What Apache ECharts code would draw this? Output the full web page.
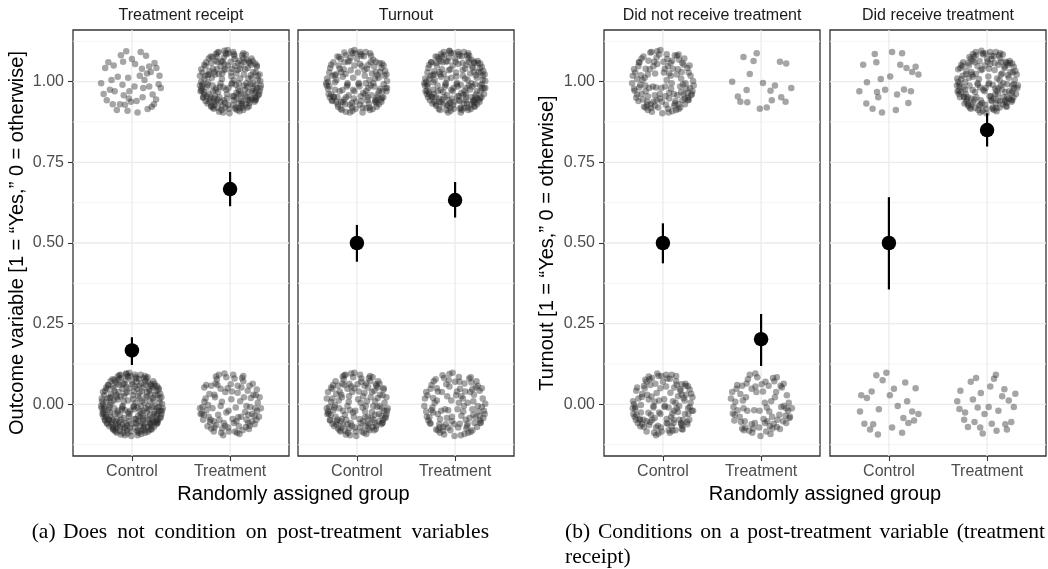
<!DOCTYPE html>
<html><head><meta charset="utf-8">
<script src="https://cdn.jsdelivr.net/npm/echarts@6/dist/echarts.min.js"></script>
<style>html,body{margin:0;padding:0;background:#fff}#c{width:1048px;height:569px}</style>
</head><body><div id="c"></div><script>
// ---------------- data ----------------
const panelTitles = ['Treatment receipt', 'Turnout', 'Did not receive treatment', 'Did receive treatment'];
const groups = ['Control', 'Treatment'];
const yTicks = [0, 0.25, 0.5, 0.75, 1];
const yMinor = [-0.125, 0.125, 0.375, 0.625, 0.875, 1.125];
// group means (proportion "Yes") and 95% interval, [Control, Treatment] per panel
const means  = [[0.167, 0.667], [0.500, 0.633], [0.500, 0.202], [0.500, 0.850]];
const ciLow  = [[0.122, 0.614], [0.442, 0.579], [0.437, 0.119], [0.356, 0.799]];
const ciHigh = [[0.208, 0.720], [0.556, 0.689], [0.561, 0.280], [0.642, 0.902]];
// individuals with outcome 0 and outcome 1, [Control, Treatment] per panel
const countZero = [[250, 100], [150, 110], [125, 80], [25, 30]];
const countOne  = [[50, 200], [150, 190], [125, 20], [25, 170]];
// jitter offsets (hundredths of the jitter radius), read as a disc-shaped cloud
const jitter = [
 12,-45,-67,23,81,-30,-5,88,44,61,-88,-14,30,-82,-40,-55,69,12,-20,35,
 5,-8,58,-62,-73,-48,22,79,-52,70,90,33,-95,10,36,-20,-14,-90,77,-55,
 -30,-10,48,25,-61,-70,10,55,-85,42,63,-78,-8,-30,28,92,-45,15,85,-8,
 -22,-72,55,47,-70,-25,15,-60,-35,82,72,58,-90,-38,40,5,0,70,-58,50,
 92,-20,-12,12,34,-48,-80,-58,60,30,-26,-42,18,-96,-65,5,50,-85,-48,-88,
 78,42,-3,-62,25,18,-75,60,66,-40,-18,94,45,80,-98,-5,8,-15,-38,-70,
 70,-70,-55,-30,32,40,-28,62,88,18,-10,-52,55,-15,-82,-40,12,85,-62,78,
 38,-68,-42,38,96,2,-15,-80,20,-35,-70,20,52,68,-32,-15,80,-50,-50,-62,
 3,28,62,-58,-88,28,42,-88,-20,75,74,-22,-60,-78,16,48,-40,90,94,-30,
 -78,-60,28,-5,-8,98,58,10,-35,-93,85,50,-92,-22,10,-72,-55,40,46,-42,
 -25,25,68,72,-72,-10,30,65,-10,-38,82,-56,-48,-45,20,25,-68,72,55,-80,
 -96,18,36,-75,-18,55,90,-42,-44,-20,12,5,-85,-50,48,38,-30,-62,72,-5,
 -2,-98,50,84,-55,-80,26,-22,-78,48,80,-58,-22,-18,40,-60,-58,12,14,70,
 66,52,-38,-82,-92,38,6,40,78,-35,-50,-72,30,-92,-75,-18,58,-32,-12,84,
 98,-12,-30,48,20,-52,-64,-55,44,22,-5,-20,82,28,-46,65,35,-38,-82,8,
 16,-84,-68,-38,62,58,-20,-58,50,-70,-90,-28,24,58,-56,-12,86,-20,-36,92,
 8,-45,70,-52,-76,60,38,82,-25,-75,92,-38,-48,22,2,62,64,-8,-60,-75,
 -15,38,52,-48,-88,-8,28,-68,-42,78,72,64,-66,32,18,-10,-28,-88,88,5,
 -52,-52,42,72,-6,-72,60,-76,-84,-32,32,10,-18,96,80,-12,-60,58,12,-58,
 -38,-32,56,42,-94,-30,22,-88,-45,86,85,46,-72,-68,4,16,-26,8,48,-24,
 -82,52,62,-66,10,92,-34,-48,74,30,-52,-84,36,52,-12,-25,94,22,-70,-2,
 26,-40,-40,60,70,-30,-22,-96,42,88,-96,-12,58,-58,-8,50,-62,-48,84,-48,
 -30,-5,14,80,-78,18,40,-80,-50,30,66,20,-16,-66,24,36,-86,-48,52,-5,
 -44,-64,78,-62,-4,-84,60,62,-66,-62,34,-58,-24,64,96,-20,-56,76,6,-4,
 -74,-46,44,-12,-36,24,18,-80,80,56,-92,0,30,-28,-14,88,64,-48,-46,-26
];
const captionA = '(a)  Does not condition on post-treatment variables';
const captionB1 = '(b)  Conditions on a post-treatment variable (treatment';
const captionB2 = 'receipt)';

// ---------------- layout (display only) ----------------
const panelLeft = [73, 298, 604, 830];
const panelWidth = 216, panelTop = 30, panelHeight = 426;
const jitterStart = [[[0, 17], [133, 61]], [[88, 200], [29, 145]], [[171, 44], [110, 230]], [[75, 190], [5, 120]]];
const jitterRX = 0.32, jitterRY = 0.10;
const nJ = jitter.length / 2;
const sans = "'Liberation Sans', Arial, Helvetica, sans-serif";
const serif = "'Liberation Serif', 'Times New Roman', serif";

const grids = [], xAxes = [], yAxes = [], series = [];
for (let p = 0; p < 4; p++) {
  grids.push({left: panelLeft[p], top: panelTop, width: panelWidth, height: panelHeight,
    show: true, borderColor: '#333333', borderWidth: 1.3, backgroundColor: '#fff', containLabel: false});
  xAxes.push({type: 'value', gridIndex: p, min: 0.4, max: 2.6,
    axisLine: {show: false, onZero: false}, splitLine: {show: false},
    axisTick: {show: true, customValues: [1, 2], length: 5, lineStyle: {color: '#333333', width: 1.1}},
    axisLabel: {show: true, customValues: [1, 2], formatter: v => groups[Math.round(v) - 1],
      fontSize: 16, color: '#4D4D4D', fontFamily: sans, margin: 8}});
  const showY = (p === 0 || p === 2);
  yAxes.push({type: 'value', gridIndex: p, min: -0.16, max: 1.16,
    axisLine: {show: false, onZero: false}, splitLine: {show: false},
    axisTick: {show: showY, customValues: yTicks, length: 5, lineStyle: {color: '#333333', width: 1.1}},
    axisLabel: {show: showY, customValues: yTicks, formatter: v => v.toFixed(2),
      fontSize: 16, color: '#4D4D4D', fontFamily: sans, margin: 9}});

  // grid lines
  const hData = yMinor.map(v => [v, 0]).concat(yTicks.map(v => [v, 1]));
  series.push({type: 'custom', xAxisIndex: p, yAxisIndex: p, silent: true, z: 1, clip: false,
    data: hData,
    renderItem: (params, api) => {
      const cs = params.coordSys;
      const y = api.coord([1, api.value(0)])[1];
      const major = api.value(1) === 1;
      return {type: 'line', shape: {x1: cs.x, y1: y, x2: cs.x + cs.width, y2: y},
        style: {stroke: major ? '#EBEBEB' : '#F3F3F3', lineWidth: major ? 1.3 : 0.9}};
    }});
  series.push({type: 'custom', xAxisIndex: p, yAxisIndex: p, silent: true, z: 1, clip: false,
    data: [[1], [2]],
    renderItem: (params, api) => {
      const cs = params.coordSys;
      const x = api.coord([api.value(0), 0])[0];
      return {type: 'line', shape: {x1: x, y1: cs.y, x2: x, y2: cs.y + cs.height},
        style: {stroke: '#EBEBEB', lineWidth: 1.3}};
    }});

  // jittered individual outcomes
  const pts = [];
  for (let g = 0; g < 2; g++) {
    [[0, countZero[p][g]], [1, countOne[p][g]]].forEach(([outcome, n]) => {
      const s = jitterStart[p][g][outcome];
      for (let k = 0; k < n; k++) {
        const j = (s + k) % nJ;
        pts.push([g + 1 + jitter[2 * j] / 100 * jitterRX, outcome + jitter[2 * j + 1] / 100 * jitterRY]);
      }
    });
  }
  series.push({type: 'scatter', xAxisIndex: p, yAxisIndex: p, silent: true, z: 2,
    symbolSize: 6.5, data: pts, itemStyle: {color: 'rgba(40,40,40,0.42)', borderWidth: 0, opacity: 1}});

  // confidence intervals
  series.push({type: 'custom', xAxisIndex: p, yAxisIndex: p, silent: true, z: 3,
    data: [[1, ciLow[p][0], ciHigh[p][0]], [2, ciLow[p][1], ciHigh[p][1]]],
    renderItem: (params, api) => {
      const a = api.coord([api.value(0), api.value(1)]);
      const b = api.coord([api.value(0), api.value(2)]);
      return {type: 'line', shape: {x1: a[0], y1: a[1], x2: b[0], y2: b[1]},
        style: {stroke: '#000', lineWidth: 2.2}};
    }});
  // means
  series.push({type: 'scatter', xAxisIndex: p, yAxisIndex: p, silent: true, z: 4,
    symbolSize: 14.5, data: [[1, means[p][0]], [2, means[p][1]]], itemStyle: {color: '#000', opacity: 1}});
}

const txt = (x, y, text, o) => Object.assign({type: 'text', x: x, y: y, silent: true,
  style: Object.assign({text: text, fontFamily: sans, fontSize: 16, fill: '#1A1A1A',
    align: 'center', verticalAlign: 'middle'}, o || {})});
const graphic = [];
for (let p = 0; p < 4; p++) graphic.push(txt(panelLeft[p] + panelWidth / 2, 16, panelTitles[p]));
graphic.push(txt(293.5, 494, 'Randomly assigned group', {fontSize: 20, fill: '#000'}));
graphic.push(txt(825, 494, 'Randomly assigned group', {fontSize: 20, fill: '#000'}));
graphic.push(Object.assign(txt(17, 243, 'Outcome variable [1 = \u201CYes,\u201D 0 = otherwise]', {fontSize: 20, fill: '#000'}), {rotation: Math.PI / 2}));
graphic.push(Object.assign(txt(547, 243, 'Turnout [1 = \u201CYes,\u201D 0 = otherwise]', {fontSize: 20, fill: '#000'}), {rotation: Math.PI / 2}));

// captions: justified between the extents seen in the reference
const capFontSize = 21.5;
const cap = {fontFamily: serif, fontSize: capFontSize, fill: '#000', align: 'left', verticalAlign: 'middle'};
const mctx = document.createElement('canvas').getContext('2d');
mctx.font = capFontSize + 'px ' + serif;
function justify(line, x0, x1, y) {
  const words = line.split(/\s+/);
  const widths = words.map(w => mctx.measureText(w).width);
  const total = widths.reduce((a, b) => a + b, 0);
  const gap = (x1 - x0 - total) / (words.length - 1);
  let x = x0;
  words.forEach((w, i) => { graphic.push(txt(x, y, w, cap)); x += widths[i] + gap; });
}
const capAWords = captionA.split(/\s{2}/);
graphic.push(txt(31.7, 532, capAWords[0], cap));
justify(capAWords[1], 63, 489, 532);
justify(captionB1, 565, 1045, 532);
graphic.push(txt(565, 557, captionB2, cap));

const chart = echarts.init(document.getElementById('c'), null, {renderer: 'canvas'});
chart.setOption({animation: false, backgroundColor: '#fff', grid: grids, xAxis: xAxes, yAxis: yAxes, series: series, graphic: graphic});
</script></body></html>
